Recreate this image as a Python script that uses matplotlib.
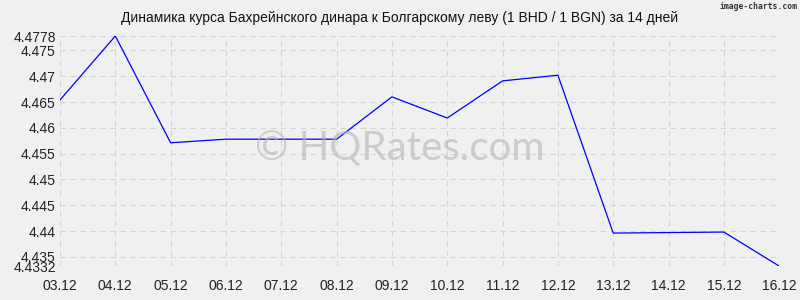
import matplotlib
matplotlib.use('Agg')
import matplotlib.pyplot as plt

dates = ['03.12', '04.12', '05.12', '06.12', '07.12', '08.12', '09.12',
         '10.12', '11.12', '12.12', '13.12', '14.12', '15.12', '16.12']
rates = [4.4654, 4.4778, 4.4571, 4.4578, 4.4578, 4.4578, 4.4660,
         4.4619, 4.4691, 4.4702, 4.4396, 4.4397, 4.4398, 4.4332]
yticks = [4.4332, 4.435, 4.44, 4.445, 4.45, 4.455, 4.46, 4.465, 4.47, 4.475, 4.4778]
ylabels = ['4.4332', '4.435', '4.44', '4.445', '4.45', '4.455', '4.46', '4.465', '4.47', '4.475', '4.4778']

plt.rcParams['font.family'] = ['Liberation Sans', 'DejaVu Sans']
bg = '#f0f0f0'
fig = plt.figure(figsize=(8, 3), dpi=100, facecolor=bg)
ax = fig.add_axes([0.075, 0.113, 0.899, 0.767], facecolor=bg)

x = list(range(len(dates)))
ax.plot(x, rates, color='#0000ff', lw=0.9, zorder=3)

ax.set_xlim(0, len(dates) - 1)
ax.set_ylim(min(rates), max(rates))
ax.set_xticks(x)
ax.set_xticklabels(dates, fontsize=10, color='#222222')
ax.set_yticks(yticks)
ax.set_yticklabels(ylabels, fontsize=10, color='#222222')
ax.tick_params(length=0, pad=9)
ax.tick_params(axis='y', pad=3)
ax.grid(True, color='#d4d4d4', linestyle=(0, (5, 4)), lw=0.8)
for s in ax.spines.values():
    s.set_visible(False)
ax.set_axisbelow(True)

fig.text(0.5, 0.94, 'Динамика курса Бахрейнского динара к Болгарскому леву (1 BHD / 1 BGN) за 14 дней',
         ha='center', va='center', fontsize=10, color='#111111')
fig.text(0.997, 0.977, 'image-charts.com', ha='right', va='center', fontsize=5.8,
         color='#333333', family=['DejaVu Sans Mono', 'DejaVu Sans'], weight='bold')
fig.text(0.5, 0.505, '© HQRates.com', ha='center', va='center', fontsize=29,
         color='#b4b4b4', alpha=0.6, family=['Lato', 'DejaVu Sans'], zorder=2)

fig.savefig('out.png', dpi=100, facecolor=bg)
